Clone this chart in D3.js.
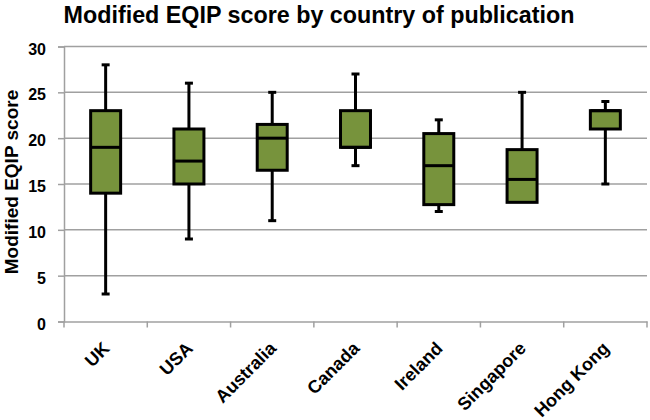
<!DOCTYPE html>
<html>
<head>
<meta charset="utf-8">
<script src="https://cdn.jsdelivr.net/npm/d3@7"></script>
<style>
  html, body { margin: 0; padding: 0; background: #fff; }
  text { font-family: Arial, "Liberation Sans", sans-serif; font-weight: bold; fill: #000; }
</style>
</head>
<body>
<svg id="chart" width="650" height="420"></svg>
<script>
// ---- data ----
const countries = ["UK", "USA", "Australia", "Canada", "Ireland", "Singapore", "Hong Kong"];
const minValues    = [3, 9, 11, 17, 12, 13, 15];
const q1Values     = [14, 15, 16.5, 19, 12.75, 13, 21];
const medianValues = [19, 17.5, 20, 19, 17, 15.5, 23];
const q3Values     = [23, 21, 21.5, 23, 20.5, 18.75, 23];
const maxValues    = [28, 26, 25, 27, 22, 25, 24];
const yTicks = [0, 5, 10, 15, 20, 25, 30];
const titleText = "Modified EQIP score by country of publication";
const yTitleText = "Modified EQIP score";

const data = countries.map((c, i) => ({
  country: c, min: minValues[i], q1: q1Values[i], median: medianValues[i],
  q3: q3Values[i], max: maxValues[i]
}));

const svg = d3.select("#chart");
const plotLeft = 64, plotRight = 647, plotTop = 46.5, plotBottom = 321.5;

const x = d3.scaleBand().domain(countries).range([plotLeft, plotRight]).paddingInner(0).paddingOuter(0);
const y = d3.scaleLinear().domain([0, 30]).range([plotBottom, plotTop]);

const gridColor = "#a0a0a0";

// gridlines
svg.append("g").selectAll("line").data(yTicks.filter(t => t > 0)).join("line")
  .attr("x1", plotLeft).attr("x2", plotRight)
  .attr("y1", d => y(d)).attr("y2", d => y(d))
  .attr("stroke", gridColor).attr("stroke-width", 1.5);

// y axis
const yAxis = svg.append("g").attr("transform", `translate(${plotLeft},0)`)
  .call(d3.axisLeft(y).tickValues(yTicks).tickSize(6).tickPadding(12));
yAxis.select(".domain").attr("stroke", gridColor).attr("stroke-width", 1.5);
yAxis.selectAll(".tick line").attr("stroke", gridColor).attr("stroke-width", 1.5);
yAxis.selectAll(".tick text").attr("font-size", 16).attr("font-weight", "bold")
  .attr("font-family", "Arial, 'Liberation Sans', sans-serif").attr("fill", "#000")
  .attr("dy", "0.47em");

// x axis
const xAxis = svg.append("g").attr("transform", `translate(0,${plotBottom})`)
  .call(d3.axisBottom(x).tickSize(0).tickFormat(""));
xAxis.select(".domain").attr("stroke", gridColor).attr("stroke-width", 1.5);
// category boundary ticks
svg.append("g").selectAll("line").data(countries.concat(["__end"])).join("line")
  .attr("x1", (d, i) => i < countries.length ? x(d) : plotRight)
  .attr("x2", (d, i) => i < countries.length ? x(d) : plotRight)
  .attr("y1", plotBottom).attr("y2", plotBottom + 6)
  .attr("stroke", gridColor).attr("stroke-width", 1.5);

// x labels
svg.append("g").selectAll("text").data(countries).join("text")
  .attr("transform", d => `translate(${x(d) + x.bandwidth() / 2 + 5},${plotBottom + 28}) rotate(-45)`)
  .attr("text-anchor", "end")
  .attr("font-size", 18)
  .text(d => d);

// boxes
const bw = x.bandwidth() * 0.36;
const capW = 8;
const g = svg.append("g").selectAll("g").data(data).join("g")
  .attr("transform", d => `translate(${x(d.country) + x.bandwidth() / 2},0)`);

// whiskers
g.append("line").attr("x1", 0).attr("x2", 0)
  .attr("y1", d => y(d.max)).attr("y2", d => y(d.q3))
  .attr("stroke", "#000").attr("stroke-width", 3);
g.append("line").attr("x1", 0).attr("x2", 0)
  .attr("y1", d => y(d.q1)).attr("y2", d => y(d.min))
  .attr("stroke", "#000").attr("stroke-width", 3);
// caps
g.filter(d => d.max > d.q3).append("line")
  .attr("x1", -capW / 2).attr("x2", capW / 2)
  .attr("y1", d => y(d.max)).attr("y2", d => y(d.max))
  .attr("stroke", "#000").attr("stroke-width", 3);
g.filter(d => d.min < d.q1).append("line")
  .attr("x1", -capW / 2).attr("x2", capW / 2)
  .attr("y1", d => y(d.min)).attr("y2", d => y(d.min))
  .attr("stroke", "#000").attr("stroke-width", 3);
// box
g.append("rect")
  .attr("x", -bw / 2).attr("width", bw)
  .attr("y", d => y(d.q3)).attr("height", d => y(d.q1) - y(d.q3))
  .attr("fill", "#77933C").attr("stroke", "#000").attr("stroke-width", 3);
// median
g.append("line").attr("x1", -bw / 2).attr("x2", bw / 2)
  .attr("y1", d => y(d.median)).attr("y2", d => y(d.median))
  .attr("stroke", "#000").attr("stroke-width", 3);

// title
svg.append("text").attr("x", 319).attr("y", 23).attr("text-anchor", "middle")
  .attr("font-size", 23.3).text(titleText);

// y title
svg.append("text").attr("transform", `translate(18,182) rotate(-90)`)
  .attr("text-anchor", "middle").attr("font-size", 19).text(yTitleText);
</script>
</body>
</html>
